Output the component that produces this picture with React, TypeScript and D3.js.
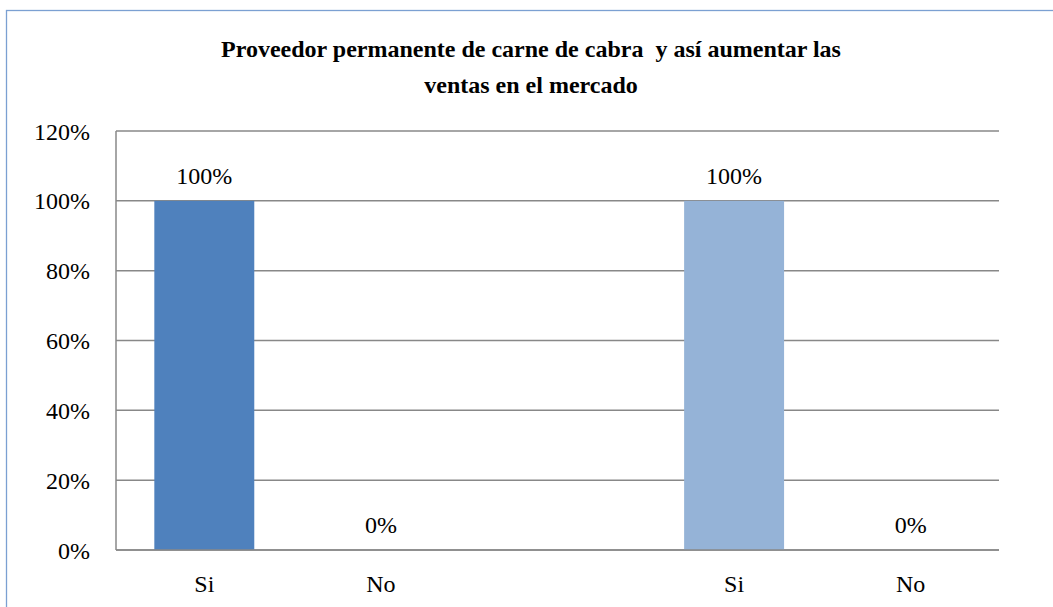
import React from 'react';
import * as d3 from 'd3';

// chart data
const titleLines = ['Proveedor permanente de carne de cabra  y así aumentar las', 'ventas en el mercado'];
const categories = ['Si', 'No'];
const seriesA = [1, 0];
const seriesB = [1, 0];
const yTicks = [0, 0.2, 0.4, 0.6, 0.8, 1, 1.2];

const W = 1053;
const H = 607;
const margin = {left: 116, right: 54, top: 131, bottom: 57};
const colorA = '#4F81BD';
const colorB = '#95B3D7';

export default function App() {
  // two groups of bars with an empty slot between them
  const rows = [
    ...categories.map((c, i) => ({key: 'a' + i, label: c, value: seriesA[i], color: colorA})),
    ...categories.map((c, i) => ({key: 'b' + i, label: c, value: seriesB[i], color: colorB})),
  ];
  const slots = ['a0', 'a1', 'gap', 'b0', 'b1'];

  const pad = 0.434;
  const x = d3.scaleBand<string>()
    .domain(slots)
    .range([margin.left, W - margin.right])
    .paddingInner(pad)
    .paddingOuter(pad / 2);

  const y = d3.scaleLinear()
    .domain([0, 1.2])
    .range([H - margin.bottom, margin.top]);

  const pct = d3.format('.0%');

  return (
    <div style={{position: 'absolute', left: 0, top: 0}}>
      <style>{`svg text, svg tspan { font-family: "Liberation Serif", Tinos, "Times New Roman", serif !important; }`}</style>
      <svg width={W} height={H} style={{display: 'block', background: '#fff'}}>
        {/* outer chart border, runs off the page */}
        <rect x={6.5} y={10.5} width={W + 20} height={H + 20} fill="none" stroke="#7BA0D2" strokeWidth={1.3} />

        {titleLines.map((t, i) => (
          <text key={i} x={531} y={57 + i * 36} textAnchor="middle" fontSize={24} fontWeight="bold" fontFamily="Liberation Serif" style={{whiteSpace: 'pre'}}>{t}</text>
        ))}

        {/* gridlines */}
        {yTicks.map(t => (
          <line key={t} x1={margin.left} x2={W - margin.right} y1={y(t)} y2={y(t)} stroke="#888" strokeWidth={1.5} />
        ))}

        {/* y labels */}
        {yTicks.map(t => (
          <text key={'l' + t} x={90} y={y(t) + 8.5} textAnchor="end" fontSize={24} fill="#000" fontFamily="Liberation Serif">{pct(t)}</text>
        ))}

        {/* bars */}
        {rows.map(r => (
          <rect key={r.key} x={x(r.key)} y={y(r.value)} width={x.bandwidth()} height={y(0) - y(r.value)} fill={r.color} />
        ))}

        {/* axes */}
        <line x1={margin.left} x2={margin.left} y1={y(1.2)} y2={y(0)} stroke="#888" strokeWidth={1.5} />
        <line x1={margin.left} x2={W - margin.right} y1={y(0)} y2={y(0)} stroke="#888" strokeWidth={1.5} />

        {/* data labels */}
        {rows.map(r => (
          <text key={'v' + r.key} x={(x(r.key) ?? 0) + x.bandwidth() / 2} y={y(r.value) - 17} textAnchor="middle" fontSize={24} fontFamily="Liberation Serif">{pct(r.value)}</text>
        ))}

        {/* category labels */}
        {rows.map(r => (
          <text key={'c' + r.key} x={(x(r.key) ?? 0) + x.bandwidth() / 2} y={592} textAnchor="middle" fontSize={24} fontFamily="Liberation Serif">{r.label}</text>
        ))}
      </svg>
    </div>
  );
}
